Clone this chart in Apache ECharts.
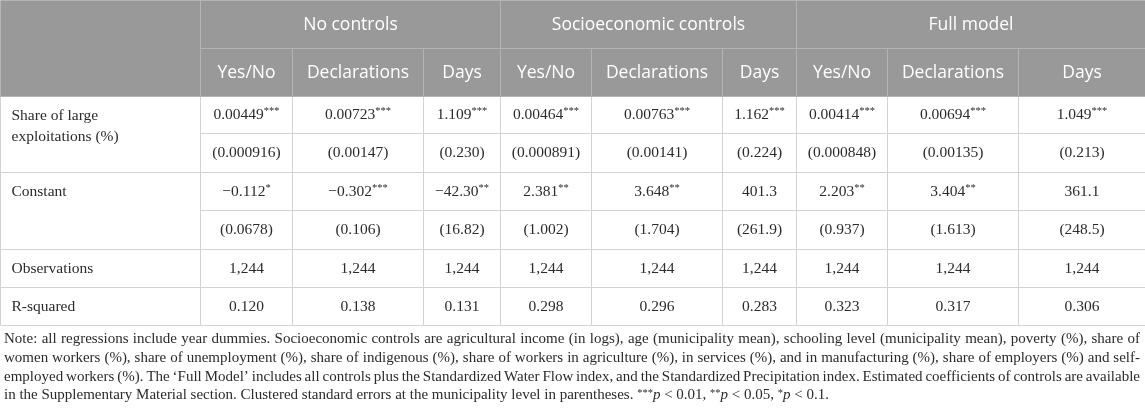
<!DOCTYPE html>
<html>
<head>
<meta charset="utf-8">
<script src="https://cdn.jsdelivr.net/npm/echarts@6/dist/echarts.min.js"></script>
<style>
  html, body { margin: 0; padding: 0; background: #fff; }
  #main { width: 1145px; height: 413px; }
</style>
</head>
<body>
<div id="main"></div>
<script>
// table content
const groups = ['No controls', 'Socioeconomic controls', 'Full model'];
const outcomes = ['Yes/No', 'Declarations', 'Days'];
const rowLabels = ['Share of large\nexploitations (%)', 'Constant', 'Observations', 'R-squared'];

const shareCoef = ['0.00449***', '0.00723***', '1.109***', '0.00464***', '0.00763***', '1.162***', '0.00414***', '0.00694***', '1.049***'];
const shareSE = ['(0.000916)', '(0.00147)', '(0.230)', '(0.000891)', '(0.00141)', '(0.224)', '(0.000848)', '(0.00135)', '(0.213)'];
const constCoef = ['\u22120.112*', '\u22120.302***', '\u221242.30**', '2.381**', '3.648**', '401.3', '2.203**', '3.404**', '361.1'];
const constSE = ['(0.0678)', '(0.106)', '(16.82)', '(1.002)', '(1.704)', '(261.9)', '(0.937)', '(1.613)', '(248.5)'];
const observations = ['1,244', '1,244', '1,244', '1,244', '1,244', '1,244', '1,244', '1,244', '1,244'];
const rSquared = ['0.120', '0.138', '0.131', '0.298', '0.296', '0.283', '0.323', '0.317', '0.306'];

const noteLines = [
  'Note: all regressions include year dummies. Socioeconomic controls are agricultural income (in logs), age (municipality mean), schooling level (municipality mean), poverty (%), share of',
  'women workers (%), share of unemployment (%), share of indigenous (%), share of workers in agriculture (%), in services (%), and in manufacturing (%), share of employers (%) and self-',
  'employed workers (%). The \u2018Full Model\u2019 includes all controls plus the Standardized Water Flow index, and the Standardized Precipitation index. Estimated coefficients of controls are available',
  'in the Supplementary Material section. Clustered standard errors at the municipality level in parentheses. {s|***}{i|p} < 0.01, {s|**}{i|p} < 0.05, {s|*}{i|p} < 0.1.'
];

// layout (pixel units of the hidden axes)
const W = 1145, H = 413;
const colEdges = [0, 200, 292, 423, 500, 591, 722, 796, 887, 1018, 1145];
const rowEdges = [0, 48, 96, 133, 172, 210, 249, 287, 325];
const noteY = [339, 358, 377, 395];
const noteLeft = 4, noteRight = 1140;

const serif = '"Liberation Serif", "DejaVu Serif", serif';
const sans = '"Open Sans", "Noto Sans", sans-serif';
const headBg = '#999999';
const headLine = '#b4b4b4';
const bodyLine = '#d2d2d2';
const ink = '#2b2b2b';

// build cells: [c0, r0, c1, r1]
const cells = [];
const bodyRows = [
  { label: rowLabels[0], rows: [shareCoef, shareSE] },
  { label: rowLabels[1], rows: [constCoef, constSE] },
  { label: rowLabels[2], rows: [observations] },
  { label: rowLabels[3], rows: [rSquared] }
];
let r = 2;
bodyRows.forEach(b => {
  cells.push({ c: [0, r, 1, r + b.rows.length], text: b.label, kind: 'label' });
  b.rows.forEach((vals, k) => {
    vals.forEach((v, i) => cells.push({ c: [1 + i, r + k, 2 + i, r + k + 1], text: v, kind: 'value' }));
  });
  r += b.rows.length;
});
cells.push({ c: [0, 0, 1, 2], text: '', kind: 'head' });
groups.forEach((g, i) => cells.push({ c: [1 + 3 * i, 0, 4 + 3 * i, 1], text: g, kind: 'head' }));
for (let i = 0; i < 9; i++) {
  cells.push({ c: [1 + i, 1, 2 + i, 2], text: outcomes[i % 3], kind: 'head' });
}

const starText = s => {
  const m = s.match(/^(.*?)(\**)$/);
  return m[2] ? '{v|' + m[1] + '}{s|' + m[2] + '}' : '{v|' + m[1] + '}';
};

function renderCell(params, api) {
  const cell = cells[params.dataIndex];
  const [c0, r0, c1, r1] = cell.c;
  const p0 = api.coord([colEdges[c0], rowEdges[r0]]);
  const p1 = api.coord([colEdges[c1], rowEdges[r1]]);
  const x = Math.round(p0[0]) + 0.5, y = Math.round(p0[1]) + 0.5;
  const w = Math.round(p1[0]) - Math.round(p0[0]);
  const h = Math.round(p1[1]) - Math.round(p0[1]);
  const isHead = cell.kind === 'head';
  const children = [{
    type: 'rect',
    shape: { x: x, y: y, width: w, height: h },
    style: { fill: isHead ? headBg : '#fff', stroke: isHead ? headLine : bodyLine, lineWidth: 1 }
  }];
  if (cell.kind === 'head') {
    children.push({
      type: 'text',
      style: {
        text: cell.text, x: x + w / 2, y: y + h / 2 + 1,
        fill: '#fff', font: '17.5px ' + sans, align: 'center', verticalAlign: 'middle'
      }
    });
  } else if (cell.kind === 'label') {
    const firstMid = (api.coord([0, rowEdges[r0]])[1] + api.coord([0, rowEdges[r0 + 1]])[1]) / 2;
    children.push({
      type: 'text',
      style: {
        text: cell.text, x: x + 11, y: firstMid - 10.5 + 1,
        fill: ink, font: '15.5px ' + serif, align: 'left', verticalAlign: 'top', lineHeight: 21
      }
    });
  } else {
    children.push({
      type: 'text',
      style: {
        text: starText(cell.text), x: x + w / 2, y: y + h / 2,
        align: 'center', verticalAlign: 'middle',
        rich: {
          v: { fill: ink, font: '15.5px ' + serif, lineHeight: 18 },
          s: { fill: ink, font: '10.5px ' + serif, verticalAlign: 'top' }
        }
      }
    });
  }
  return { type: 'group', children: children };
}

// justified note lines
const noteFont = '15px ' + serif;
const ctx = document.createElement('canvas').getContext('2d');
ctx.font = noteFont;
const graphics = [];
noteLines.forEach((line, li) => {
  if (li === noteLines.length - 1) {
    graphics.push({
      type: 'text', x: noteLeft, y: noteY[li],
      style: {
        text: line, verticalAlign: 'middle',
        rich: {
          s: { fill: ink, font: '10.5px ' + serif, verticalAlign: 'top' },
          i: { fill: ink, font: 'italic 15px ' + serif }
        },
        fill: ink, font: noteFont
      }
    });
    return;
  }
  const words = line.split(' ');
  const widths = words.map(wd => ctx.measureText(wd).width);
  const total = widths.reduce((a, b) => a + b, 0);
  const gap = (noteRight - noteLeft - total) / (words.length - 1);
  let cx = noteLeft;
  words.forEach((wd, k) => {
    graphics.push({
      type: 'text', x: cx, y: noteY[li],
      style: { text: wd, fill: ink, font: noteFont, verticalAlign: 'middle' }
    });
    cx += widths[k] + gap;
  });
});

const chart = echarts.init(document.getElementById('main'), null, { renderer: 'canvas' });
chart.setOption({
  animation: false,
  grid: { left: 0, right: 0, top: 0, bottom: 0 },
  xAxis: { type: 'value', min: 0, max: W, show: false },
  yAxis: { type: 'value', min: 0, max: H, inverse: true, show: false },
  series: [{
    type: 'custom',
    renderItem: renderCell,
    data: cells.map(cell => cell.c),
    encode: { x: [0, 2], y: [1, 3] },
    silent: true,
    clip: false
  }],
  graphic: graphics
});
</script>
</body>
</html>
